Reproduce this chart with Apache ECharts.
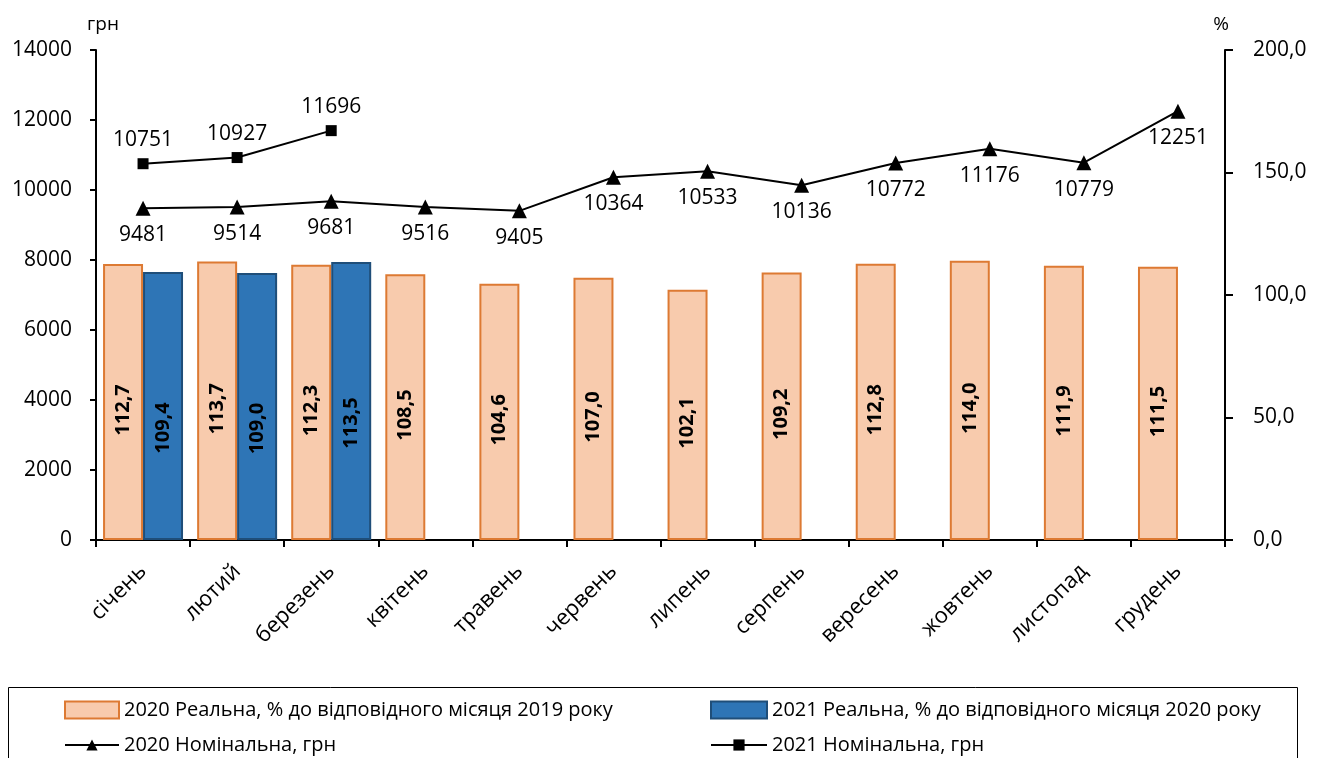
<!DOCTYPE html>
<html><head><meta charset="utf-8">
<script src="https://cdn.jsdelivr.net/npm/echarts@6/dist/echarts.min.js"></script>
<style>html,body{margin:0;padding:0;background:#fff}#c{width:1321px;height:758px}</style>
</head><body><div id="c"></div>
<script>
const months = ['січень','лютий','березень','квітень','травень','червень','липень','серпень','вересень','жовтень','листопад','грудень'];
const real2020 = [112.7,113.7,112.3,108.5,104.6,107.0,102.1,109.2,112.8,114.0,111.9,111.5];
const real2021 = [109.4,109.0,113.5,null,null,null,null,null,null,null,null,null];
const nom2020 = [9481,9514,9681,9516,9405,10364,10533,10136,10772,11176,10779,12251];
const nom2021 = [10751,10927,11696,null,null,null,null,null,null,null,null,null];
const leftTicks = {min:0,max:14000,interval:2000};
const rightTicks = {min:0,max:200,interval:50};
const names = ['2020 Реальна, % до відповідного місяця 2019 року','2021 Реальна, % до відповідного місяця 2020 року','2020 Номінальна, грн','2021 Номінальна, грн'];

const FONT = 'Open Sans';
const comma = v => v.toFixed(1).replace('.', ',');
const chart = echarts.init(document.getElementById('c'));
const legendStyle = {fontFamily: FONT, fontSize: 20, color: '#000'};
function lg(name, left, top, w, h, icon){
  return {data:[icon ? {name, icon} : name], left, top, itemWidth:w, itemHeight:h, itemGap:0, textStyle:legendStyle, selectedMode:false, padding:0};
}
chart.setOption({
  animation:false,
  textStyle:{fontFamily:FONT},
  grid:{left:96,right:96,top:50,bottom:218},
  graphic:[{type:'rect',shape:{x:8.5,y:687.5,width:1289,height:90},style:{fill:'none',stroke:'#000',lineWidth:1}}],
  legend:[
    lg(names[0],64,700,54,17,'rect'),
    lg(names[1],710,700,56,17,'rect'),
    lg(names[2],64,735,54,14),
    lg(names[3],710,735,56,14)
  ],
  xAxis:{type:'category',data:months,boundaryGap:true,
    axisLine:{lineStyle:{color:'#000',width:2}},
    axisTick:{show:true,length:7,lineStyle:{color:'#000',width:2}},
    axisLabel:{rotate:45,fontSize:22,color:'#000',fontFamily:FONT,margin:28}},
  yAxis:[
    {type:'value',...leftTicks,name:'грн',nameGap:16,
      nameTextStyle:{fontSize:19,color:'#000',fontFamily:FONT,align:'center',padding:[0,0,0,14]},
      axisLine:{show:true,lineStyle:{color:'#000',width:2}},
      axisTick:{show:true,length:6,lineStyle:{color:'#000',width:2}},
      splitLine:{show:false},
      axisLabel:{fontSize:21,color:'#000',margin:24,fontFamily:FONT,formatter:v=>String(v)}},
    {type:'value',...rightTicks,name:'%',nameGap:16,position:'right',
      nameTextStyle:{fontSize:19,color:'#000',fontFamily:FONT,align:'center',padding:[0,8,0,0]},
      axisLine:{show:true,lineStyle:{color:'#000',width:2}},
      axisTick:{show:true,length:8,lineStyle:{color:'#000',width:2}},
      splitLine:{show:false},
      axisLabel:{fontSize:21,color:'#000',margin:28,fontFamily:FONT,formatter:comma}}
  ],
  series:[
    {name:names[0],type:'bar',yAxisIndex:1,data:real2020,barGap:'0%',barCategoryGap:'15%',
      itemStyle:{color:'#F8CBAD',borderColor:'#DD7A33',borderWidth:2},
      label:{show:true,position:'inside',rotate:90,offset:[-8,0],fontSize:20,fontWeight:'bold',color:'#000',fontFamily:FONT,formatter:p=>comma(p.value)}},
    {name:names[1],type:'bar',yAxisIndex:1,data:real2021,
      itemStyle:{color:'#2E75B6',borderColor:'#1F4E79',borderWidth:2},
      label:{show:true,position:'inside',rotate:90,offset:[-22,0],fontSize:20,fontWeight:'bold',color:'#000',fontFamily:FONT,formatter:p=>p.value==null?'':comma(p.value)}},
    {name:names[2],type:'line',yAxisIndex:0,data:nom2020,symbol:'triangle',symbolSize:15,
      lineStyle:{color:'#000',width:2},itemStyle:{color:'#000'},z:5,
      label:{show:true,position:'bottom',distance:9,fontSize:21,color:'#000',fontFamily:FONT}},
    {name:names[3],type:'line',yAxisIndex:0,data:nom2021,symbol:'rect',symbolSize:11,
      lineStyle:{color:'#000',width:2},itemStyle:{color:'#000'},z:5,
      label:{show:true,position:'top',distance:8,fontSize:21,color:'#000',fontFamily:FONT}}
  ]
});
</script></body></html>
